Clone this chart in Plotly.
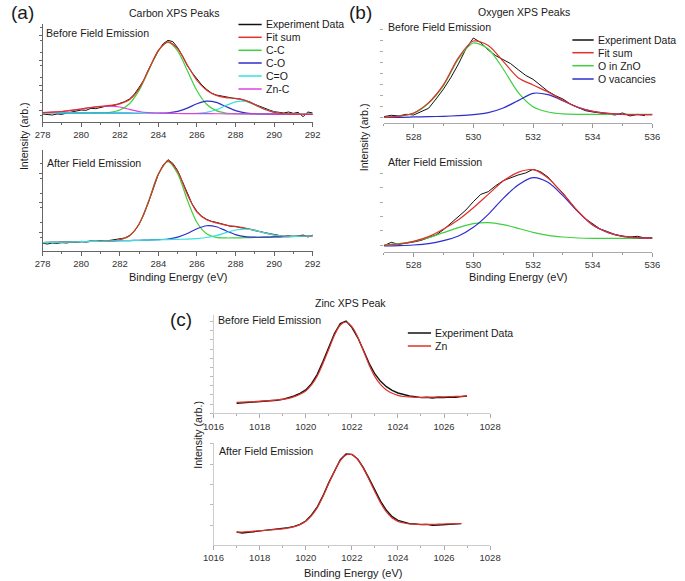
import plotly.graph_objects as go

W, H = 685, 581

# ---------------- (a) Carbon XPS ----------------
carbon_fit_x = [278.0, 278.5, 279.0, 279.5, 280.0, 280.5, 281.0, 281.5, 282.0, 282.5,
                283.0, 283.5, 284.0, 284.5, 285.0, 285.5, 286.0, 286.5, 287.0, 287.5,
                288.0, 288.5, 289.0, 289.5, 290.0, 290.5, 291.0, 291.5, 292.0]
carbon_exp_x = [278.0, 278.25, 278.5, 278.75, 279.0, 279.25, 279.5, 279.75, 280.0, 280.25,
                280.5, 280.75, 281.0, 281.25, 281.5, 281.75, 282.0, 282.25, 282.5, 282.75,
                283.0, 283.25, 283.5, 283.75, 284.0, 284.25, 284.5, 284.75, 285.0, 285.25,
                285.5, 285.75, 286.0, 286.25, 286.5, 286.75, 287.0, 287.25, 287.5, 287.75,
                288.0, 288.25, 288.5, 288.75, 289.0, 289.25, 289.5, 289.75, 290.0, 290.25,
                290.5, 290.75, 291.0, 291.25, 291.5, 291.75, 292.0]

carbon_before_exp = [41, 40, 38, 41, 40, 44, 47, 49, 53, 52, 58, 57, 61, 64, 65, 67, 73, 78, 86, 100,
                     121, 143, 176, 205, 230, 252, 262, 258, 240, 215, 186, 165, 146, 128, 115, 104,
                     98, 95, 91, 90, 87, 86, 82, 77, 70, 64, 57, 53, 48, 46, 44, 47, 43, 46, 33, 47, 44]
carbon_before_fit = [45.5, 46.5, 48.5, 52, 56, 60.5, 63.8, 67, 71.3, 83.5, 117, 174.3, 232, 257.5,
                     237, 188, 141.5, 112.3, 96.9, 90.3, 87.8, 81.8, 69.2, 55.2, 45.9, 41.8, 40.7, 40.2, 40]
carbon_before_cc = [45, 44.8, 44.6, 44.5, 44.3, 44.1, 44.3, 46, 52.8, 71.9, 112, 171.9, 230.8, 255.7,
                    230.4, 171.2, 110.9, 70.4, 51, 43.9, 41.8, 41.2, 41.1, 40.9, 40.7, 40.5, 40.4, 40.2, 40]
carbon_before_co = [45, 44.8, 44.6, 44.5, 44.3, 44.1, 43.9, 43.75, 43.6, 43.4, 43.2, 43.0, 43.3, 44.5,
                    49, 58.7, 71.7, 79.6, 75.8, 63.3, 51.2, 44.3, 41.8, 41, 40.7, 40.5, 40.4, 40.2, 40]
carbon_before_cdo = [45, 44.8, 44.6, 44.5, 44.3, 44.1, 43.9, 43.75, 43.6, 43.4, 43.2, 43.0, 42.9, 42.7,
                     42.5, 42.5, 43.1, 46, 53.7, 66.3, 77.6, 78.7, 68.5, 55.1, 45.9, 41.8, 40.6, 40.2, 40]
carbon_before_znc = [45.5, 46.5, 48.5, 52, 56, 60.5, 63.5, 64.8, 62, 55, 48.5, 45, 43.5, 42.7,
                     42.5, 42.3, 42.1, 41.9, 41.8, 41.6, 41.4, 41.2, 41.1, 40.9, 40.7, 40.5, 40.4, 40.2, 40]

carbon_after_exp = [25, 23, 26, 25, 27, 26, 29, 28, 31, 29, 32, 31, 33, 32, 34, 36, 38, 41, 48, 61,
                    82, 112, 150, 192, 232, 260, 276, 265, 243, 210, 175, 143, 121, 106, 97, 91,
                    88, 83, 80, 76, 76, 72, 70, 67, 63, 60, 56, 53, 50, 49, 46, 48, 45, 47, 50, 44, 50]
carbon_after_fit = [27, 27.7, 28.4, 29.1, 29.9, 30.6, 31.3, 32, 35.7, 48, 83.1, 151.8, 232.9, 272.1,
                    240.6, 171.7, 118.8, 95.7, 86.2, 79.7, 75, 71, 64.6, 56.5, 50.1, 47, 46.1, 46.3, 47]
carbon_after_cc = [27, 27.7, 28.4, 29.1, 29.9, 30.6, 31.3, 32, 35.8, 48, 83, 152, 232.6, 270,
                   234, 155, 87.4, 53.7, 42.9, 41.1, 41.3, 42, 42.7, 43.4, 44.1, 44.9, 45.6, 46.3, 47]
carbon_after_co = [27, 27.7, 28.4, 29.1, 29.9, 30.6, 31.3, 32, 32.7, 33.4, 34.1, 34.9, 35.9, 38.1,
                   43.6, 54.5, 68.8, 77.8, 74.8, 62.8, 51.3, 45.2, 43.4, 43.5, 44.1, 44.9, 45.6, 46.3, 47]
carbon_after_cdo = [27, 27.7, 28.4, 29.1, 29.9, 30.6, 31.3, 32, 32.7, 33.4, 34.1, 34.9, 35.6, 36.3,
                    37, 37.7, 39.4, 42.4, 48.3, 57, 65, 67.8, 63.9, 56.4, 50.1, 47, 46.1, 46.3, 47]

# ---------------- (b) Oxygen XPS ----------------
oxygen_fit_x = [527.0, 527.5, 528.0, 528.5, 529.0, 529.5, 530.0, 530.5, 531.0, 531.5,
                532.0, 532.5, 533.0, 533.5, 534.0, 534.5, 535.0, 535.5, 536.0]
oxygen_before_exp_x = [527.0, 527.25, 527.5, 527.75, 528.0, 528.25, 528.5, 528.75, 529.0, 529.25,
                       529.5, 529.75, 530.0, 530.25, 530.5, 530.75, 531.0, 531.25, 531.5, 531.75,
                       532.0, 532.25, 532.5, 532.75, 533.0, 533.25, 533.5, 533.75, 534.0, 534.25,
                       534.5, 534.75, 535.0, 535.25, 535.5, 535.75]
oxygen_after_exp_x = [527.0, 527.25, 527.5, 527.75, 528.0, 528.25, 528.5, 528.75, 529.0, 529.25,
                      529.5, 529.75, 530.0, 530.25, 530.5, 530.75, 531.0, 531.25, 531.5, 531.75,
                      532.0, 532.25, 532.5, 532.75, 533.0, 533.25, 533.5, 533.75, 534.0, 534.25,
                      534.5, 534.75, 535.0, 535.25, 535.5, 535.75, 536.0]

oxygen_before_exp = [22, 26, 24, 29, 27, 37, 47, 75, 105, 140, 180, 225, 258, 244, 222, 205, 192, 181,
                     163, 146, 134, 116, 98, 85, 75, 60, 50, 40, 36, 33, 30, 27, 33, 24, 29, 25]
oxygen_before_fit = [20, 23, 33, 64, 118, 199, 249, 235.5, 188, 139, 117, 96, 71, 50, 38, 32, 29, 28, 28]
oxygen_before_zno = [20, 23, 32, 62, 115, 195, 243, 225, 165, 95, 52, 36, 30, 29, 29, 29, 29, 29, 29]
oxygen_before_vac = [20, 20, 21, 22, 23, 25, 28, 34, 48, 70, 92, 88, 70, 50, 38, 32, 29, 28, 28]

oxygen_after_exp = [18, 28, 22, 25, 29, 34, 42, 50, 66, 85, 104, 125, 150, 172, 180, 198, 213, 222,
                    230, 236, 247, 240, 224, 198, 176, 148, 120, 99, 84, 68, 60, 51, 47, 44, 46, 41, 42]
oxygen_after_fit = [19, 23, 31, 45, 68, 96, 132, 172, 212, 238, 246, 221, 174, 122, 80, 58, 46, 42, 40]
oxygen_after_zno = [20, 24, 31, 42, 57, 72, 84, 87, 81, 70, 58, 49, 44, 41, 40, 40, 40, 40, 40]
oxygen_after_vac = [17, 18, 20, 24, 33, 47, 73, 112, 160, 200, 222, 208, 168, 120, 80, 58, 46, 42, 40]

# ---------------- (c) Zinc XPS ----------------
zinc_before_x = [1017.0, 1017.25, 1017.5, 1017.75, 1018.0, 1018.25, 1018.5, 1018.75, 1019.0, 1019.25,
                 1019.5, 1019.75, 1020.0, 1020.25, 1020.5, 1020.75, 1021.0, 1021.25, 1021.5, 1021.75,
                 1022.0, 1022.25, 1022.5, 1022.75, 1023.0, 1023.25, 1023.5, 1023.75, 1024.0, 1024.25,
                 1024.5, 1024.75, 1025.0, 1025.25, 1025.5, 1025.75, 1026.0, 1026.25, 1026.5, 1026.75,
                 1027.0]
zinc_after_x = [1017.0, 1017.25, 1017.5, 1017.75, 1018.0, 1018.25, 1018.5, 1018.75, 1019.0, 1019.25,
                1019.5, 1019.75, 1020.0, 1020.25, 1020.5, 1020.75, 1021.0, 1021.25, 1021.5, 1021.75,
                1022.0, 1022.25, 1022.5, 1022.75, 1023.0, 1023.25, 1023.5, 1023.75, 1024.0, 1024.25,
                1024.5, 1024.75, 1025.0, 1025.25, 1025.5, 1025.75, 1026.0, 1026.25, 1026.5, 1026.75]

zinc_before_exp = [38, 39, 40, 41, 42, 43, 45, 47, 50, 54, 60, 68, 78, 97, 125, 164, 206, 248, 277, 285,
                   266, 236, 198, 158, 126, 104, 88, 77, 69, 64, 60, 58, 55, 56, 54, 56, 55, 57, 56, 58, 60]
zinc_before_zn = [41, 41.5, 42, 43, 44, 45, 46.5, 48, 50, 53, 58, 65, 75, 93, 120, 158, 200, 243, 273, 282,
                  268, 238, 196, 153, 118, 94, 78, 68, 62, 58.5, 57, 56, 56, 56, 56.5, 57, 57.5, 58, 58.5, 59, 60]
zinc_after_exp = [39, 36, 38, 40, 42, 44, 44, 46, 48, 52, 56, 62, 72, 90, 114, 148, 187, 224, 256, 273,
                  272, 258, 232, 199, 164, 131, 104, 85, 74, 68, 64, 63, 61, 62, 59, 60, 61, 60, 62, 64]
zinc_after_zn = [38, 39, 40, 41.5, 43, 44, 45.5, 47, 48.5, 51, 55, 61, 71, 88, 112, 146, 185, 222, 253, 270,
                 271, 257, 230, 196, 160, 126, 99, 81, 71, 66, 63, 62, 62, 62, 62, 62.5, 63, 63.5, 64, 64.5]

# ---------------- styling ----------------
BLACK = "#111111"
RED = "#e0302a"
GREEN = "#3fd03f"
BLUE = "#2d2dcc"
CYAN = "#38e0e0"
MAGENTA = "#e040e0"
FONT = "Liberation Sans, Arial, sans-serif"

fig = go.Figure()


def add(x, y, color, ax, width=1.2, smooth=True):
    fig.add_trace(go.Scatter(
        x=x, y=y, mode="lines", xaxis="x" + ax, yaxis="y" + ax,
        line=dict(color=color, width=width, shape="spline" if smooth else "linear", smoothing=0.8),
        showlegend=False, hoverinfo="skip"))


# (a) before -> axis "" ; (a) after -> "2"
add(carbon_exp_x, carbon_before_exp, BLACK, "", 1.0, False)
add(carbon_fit_x, carbon_before_cc, GREEN, "")
add(carbon_fit_x, carbon_before_co, BLUE, "")
add(carbon_fit_x, carbon_before_cdo, CYAN, "")
add(carbon_fit_x, carbon_before_znc, MAGENTA, "")
add(carbon_fit_x, carbon_before_fit, RED, "")

add(carbon_exp_x, carbon_after_exp, BLACK, "2", 1.0, False)
add(carbon_fit_x, carbon_after_cc, GREEN, "2")
add(carbon_fit_x, carbon_after_co, BLUE, "2")
add(carbon_fit_x, carbon_after_fit, RED, "2")
add(carbon_fit_x, carbon_after_cdo, CYAN, "2")

# (b)
add(oxygen_before_exp_x, oxygen_before_exp, BLACK, "3", 1.0, False)
add(oxygen_fit_x, oxygen_before_zno, GREEN, "3")
add(oxygen_fit_x, oxygen_before_vac, BLUE, "3")
add(oxygen_fit_x, oxygen_before_fit, RED, "3")

add(oxygen_after_exp_x, oxygen_after_exp, BLACK, "4", 1.0, False)
add(oxygen_fit_x, oxygen_after_zno, GREEN, "4")
add(oxygen_fit_x, oxygen_after_vac, BLUE, "4")
add(oxygen_fit_x, oxygen_after_fit, RED, "4")

# (c)
add(zinc_before_x, zinc_before_exp, BLACK, "5", 1.4, False)
add(zinc_before_x, zinc_before_zn, RED, "5", 1.2)
add(zinc_after_x, zinc_after_exp, BLACK, "6", 1.4, False)
add(zinc_after_x, zinc_after_zn, RED, "6", 1.2)


def xd(l, r):
    return [l / W, r / W]


def yd(top, bottom):
    return [1 - bottom / H, 1 - top / H]


tickfont = dict(family=FONT, size=9.5, color="#333")


def xaxis(dom, rng, anchor, tick0, dtick, linecolor, tickcolor):
    return dict(domain=dom, range=rng, anchor=anchor, showgrid=False, zeroline=False,
                showline=True, linecolor=linecolor, linewidth=1,
                ticks="outside", ticklen=4, tickcolor=tickcolor, tickwidth=1,
                tick0=tick0, dtick=dtick, tickfont=tickfont,
                minor=dict(ticks="outside", ticklen=2, dtick=dtick / 2, tickcolor=tickcolor))


def yaxis(dom, rng, anchor, tick0, dtick, linecolor, tickcolor, showline=True, minor=None):
    d = dict(domain=dom, range=rng, anchor=anchor, showgrid=False, zeroline=False,
             showline=showline, linecolor=linecolor, linewidth=1,
             ticks="outside", ticklen=3, tickcolor=tickcolor, tickwidth=1,
             tick0=tick0, dtick=dtick, showticklabels=False)
    if minor:
        d["minor"] = dict(ticks="outside", ticklen=2, dtick=minor, tickcolor=tickcolor)
    return d


AX = "#666666"
fig.update_layout(
    width=W, height=H, margin=dict(l=0, r=0, t=0, b=0),
    paper_bgcolor="white", plot_bgcolor="white", showlegend=False,
    xaxis=xaxis(xd(32.7, 311.7), [278, 292], "y", 278, 2, AX, AX),
    yaxis=yaxis(yd(24, 122), [17, 311], "x", 53, 75, AX, AX, True, 37.5),
    xaxis2=xaxis(xd(32.7, 311.7), [278, 292], "y2", 278, 2, AX, AX),
    yaxis2=yaxis(yd(150, 251), [2, 305], "x2", 59, 88, AX, AX, True, 44),
    xaxis3=xaxis(xd(385.2, 662.7), [527, 536], "y3", 528, 2, "#aaaaaa", "#999999"),
    yaxis3=yaxis(yd(28, 123.3), [2, 288], "x3", 19, 32.9, "#aaaaaa", "#aaaaaa", False),
    xaxis4=xaxis(xd(385.2, 662.7), [527, 536], "y4", 528, 2, "#aaaaaa", "#999999"),
    yaxis4=yaxis(yd(165, 252), [-1, 260], "x4", 19, 43.2, "#aaaaaa", "#aaaaaa", False),
    xaxis5=xaxis(xd(209.3, 495), [1016, 1028], "y5", 1016, 2, "#cccccc", "#aaaaaa"),
    yaxis5=yaxis(yd(315, 413.3), [8, 303], "x5", 35.5, 27.5, "#cccccc", "#bbbbbb"),
    xaxis6=xaxis(xd(209.3, 495), [1016, 1028], "y6", 1016, 2, "#cccccc", "#aaaaaa"),
    yaxis6=yaxis(yd(443, 545), [0, 306], "x6", 59, 61.3, "#cccccc", "#bbbbbb"),
)

annotations = []
shapes = []


def text(s, x, y, size=10.6, anchor="center", angle=0):
    annotations.append(dict(text=s, x=x / W, y=1 - y / H, xref="paper", yref="paper",
                            showarrow=False, xanchor=anchor, yanchor="middle", textangle=angle,
                            font=dict(family=FONT, size=size, color="#1a1a1a")))


text("(a)", 11.5, 13, 19)
text("(b)", 361.5, 13, 19)
text("(c)", 176, 320, 19)
text("Carbon XPS Peaks", 168, 13, 10.5)
text("Oxygen XPS Peaks", 530, 12, 10.5)
text("Zinc XPS Peak", 351, 303, 10.5)
text("Before Field Emission", 34, 33, anchor="left")
text("After Field Emission", 35.5, 163, anchor="left")
text("Before Field Emission", 387, 26.7, anchor="left")
text("After Field Emission", 387, 161.7, anchor="left")
text("Before Field Emission", 212, 320, anchor="left")
text("After Field Emission", 213, 450.7, anchor="left")
text("Intensity (arb.)", 13, 136.5, angle=-90)
text("Intensity (arb.)", 365, 137, angle=-90)
text("Intensity (arb.)", 193, 435, angle=-90)
text("Binding Energy (eV)", 172.5, 276.7, 11)
text("Binding Energy (eV)", 523.5, 276.7, 11)
text("Binding Energy (eV)", 353.5, 573.3, 11)


def legend(items, rows, x0, x1, xt):
    for (label, color), yy in zip(items, rows):
        shapes.append(dict(type="line", xref="paper", yref="paper",
                           x0=x0 / W, x1=x1 / W, y0=1 - yy / H, y1=1 - yy / H,
                           line=dict(color=color, width=1.5)))
        text(label, xt, yy, 10.5, anchor="left")


legend([("Experiment Data", BLACK), ("Fit sum", RED), ("C-C", GREEN), ("C-O", BLUE),
        ("C=O", CYAN), ("Zn-C", MAGENTA)],
       [24.5, 37.3, 50.3, 63, 76, 89], 235, 259, 261)
legend([("Experiment Data", BLACK), ("Fit sum", RED), ("O in ZnO", GREEN), ("O vacancies", BLUE)],
       [40, 52.7, 65.7, 79], 580, 602, 604)
legend([("Experiment Data", BLACK), ("Zn", RED)], [333, 346], 410, 434, 435.5)

fig.update_layout(annotations=annotations, shapes=shapes)
fig.write_html("out.html", config={"displayModeBar": False, "staticPlot": True},
               post_script=("document.documentElement.style.margin='0';"
                            "document.body.style.margin='0';"
                            "document.body.style.padding='0';"
                            "document.documentElement.style.overflow='hidden';"
                            "document.body.style.overflow='hidden';"))
